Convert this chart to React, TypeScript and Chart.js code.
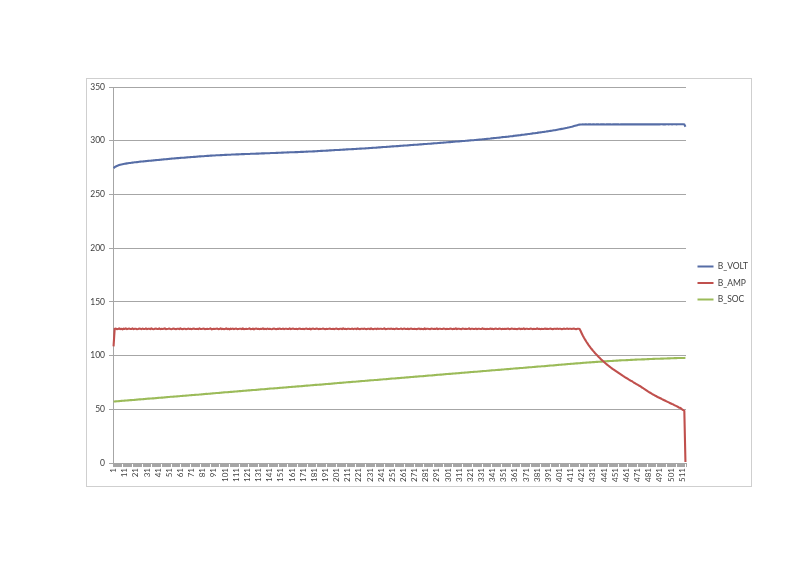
import React, { useEffect, useRef } from "react";
import { Chart, registerables } from "chart.js";

Chart.register(...registerables);

const SERIES_NAMES = ["B_VOLT", "B_AMP", "B_SOC"];
const SERIES_COLORS = ["#566DA6", "#C0504D", "#9BBB59"];

const B_VOLT = [
  274.5,275.4,276.0,276.5,276.9,277.3,277.6,277.9,278.1,278.3,
  278.5,278.7,278.9,279.0,279.2,279.3,279.5,279.6,279.7,279.9,
  280.0,280.1,280.2,280.4,280.5,280.6,280.7,280.8,280.9,281.0,
  281.1,281.2,281.3,281.4,281.5,281.6,281.7,281.8,281.9,282.0,
  282.1,282.2,282.3,282.4,282.5,282.6,282.7,282.8,282.9,283.0,
  283.1,283.2,283.3,283.4,283.5,283.6,283.7,283.8,283.8,283.9,
  284.0,284.1,284.2,284.2,284.3,284.4,284.5,284.6,284.6,284.7,
  284.8,284.9,285.0,285.0,285.1,285.2,285.3,285.4,285.4,285.5,
  285.6,285.6,285.7,285.8,285.9,285.9,286.0,286.1,286.1,286.2,
  286.2,286.3,286.4,286.4,286.5,286.5,286.6,286.6,286.7,286.7,
  286.8,286.8,286.9,286.9,287.0,287.0,287.1,287.1,287.2,287.2,
  287.3,287.3,287.3,287.4,287.4,287.5,287.5,287.5,287.6,287.6,
  287.7,287.7,287.7,287.8,287.8,287.9,287.9,287.9,288.0,288.0,
  288.0,288.1,288.1,288.2,288.2,288.2,288.3,288.3,288.4,288.4,
  288.4,288.5,288.5,288.6,288.6,288.6,288.7,288.7,288.8,288.8,
  288.8,288.9,288.9,289.0,289.0,289.0,289.1,289.1,289.2,289.2,
  289.2,289.3,289.3,289.4,289.4,289.4,289.5,289.5,289.6,289.6,
  289.6,289.7,289.7,289.8,289.8,289.9,289.9,290.0,290.0,290.1,
  290.1,290.2,290.2,290.3,290.4,290.4,290.5,290.5,290.6,290.7,
  290.7,290.8,290.8,290.9,291.0,291.0,291.1,291.1,291.2,291.3,
  291.3,291.4,291.4,291.5,291.6,291.6,291.7,291.7,291.8,291.9,
  291.9,292.0,292.0,292.1,292.2,292.2,292.3,292.3,292.4,292.5,
  292.5,292.6,292.6,292.7,292.8,292.8,292.9,293.0,293.0,293.1,
  293.2,293.2,293.3,293.4,293.5,293.5,293.6,293.7,293.8,293.8,
  293.9,294.0,294.1,294.1,294.2,294.3,294.4,294.4,294.5,294.6,
  294.7,294.7,294.8,294.9,295.0,295.0,295.1,295.2,295.3,295.3,
  295.4,295.5,295.6,295.6,295.7,295.8,295.9,296.0,296.0,296.1,
  296.2,296.3,296.3,296.4,296.5,296.6,296.6,296.7,296.8,296.9,
  296.9,297.0,297.1,297.2,297.2,297.3,297.4,297.5,297.6,297.6,
  297.7,297.8,297.9,298.0,298.1,298.1,298.2,298.3,298.4,298.5,
  298.6,298.7,298.7,298.8,298.9,299.0,299.1,299.2,299.2,299.3,
  299.4,299.5,299.6,299.7,299.8,299.8,299.9,300.0,300.1,300.2,
  300.3,300.4,300.4,300.5,300.6,300.7,300.8,300.9,301.0,301.1,
  301.2,301.3,301.4,301.5,301.6,301.7,301.8,301.9,302.0,302.2,
  302.3,302.4,302.5,302.6,302.7,302.8,302.9,303.0,303.2,303.3,
  303.4,303.5,303.6,303.7,303.8,304.0,304.1,304.2,304.3,304.5,
  304.6,304.7,304.8,305.0,305.1,305.2,305.4,305.5,305.6,305.8,
  305.9,306.0,306.2,306.3,306.5,306.6,306.8,306.9,307.0,307.2,
  307.3,307.5,307.6,307.8,307.9,308.1,308.2,308.4,308.5,308.7,
  308.8,309.0,309.2,309.3,309.5,309.7,309.8,310.0,310.2,310.4,
  310.6,310.8,311.0,311.2,311.4,311.6,311.8,312.0,312.3,312.5,
  312.8,313.0,313.3,313.6,313.9,314.2,314.5,314.8,315.0,315.1,
  315.1,315.2,315.1,315.2,315.2,315.1,315.2,315.2,315.2,315.1,
  315.2,315.2,315.1,315.2,315.2,315.2,315.1,315.2,315.2,315.2,
  315.2,315.1,315.2,315.2,315.2,315.2,315.2,315.1,315.2,315.2,
  315.2,315.2,315.2,315.2,315.1,315.2,315.2,315.2,315.2,315.3,
  315.2,315.2,315.2,315.3,315.2,315.2,315.2,315.2,315.3,315.2,
  315.2,315.3,315.2,315.2,315.2,315.3,315.2,315.2,315.3,315.2,
  315.3,315.2,315.2,315.3,315.2,315.3,315.2,315.3,315.2,315.3,
  315.2,315.3,315.3,315.2,315.3,315.2,315.3,315.3,315.2,315.3,
  315.3,315.2,315.3,315.3,315.3,315.2,315.3,315.3,315.3,315.3,
  315.3,315.3,315.2,313.0,
];

const B_AMP = [
  108.5,124.9,125.1,124.6,124.8,125.2,124.7,124.9,124.5,125.0,
  124.8,125.3,124.6,124.9,125.1,124.7,124.8,125.2,124.6,124.9,
  125.0,124.5,124.8,125.2,124.9,124.6,125.1,124.8,124.7,125.3,
  124.6,124.9,125.0,124.7,125.2,124.8,124.5,124.9,125.1,124.7,
  124.8,125.2,124.6,124.9,124.7,125.0,125.3,124.6,124.8,124.9,
  125.1,124.7,124.5,124.9,125.2,124.8,124.6,125.0,124.9,124.7,
  125.2,124.8,124.6,125.0,124.9,124.5,124.8,125.1,124.7,124.9,
  124.6,125.0,125.2,124.7,124.8,124.9,124.6,125.3,124.8,124.7,
  124.9,125.1,124.6,124.8,125.0,124.7,124.9,125.2,124.5,124.8,
  125.0,124.7,124.9,125.1,124.6,124.8,125.2,124.7,124.9,124.6,
  124.8,125.2,124.7,124.9,124.5,125.0,124.8,125.1,124.6,124.9,
  125.1,124.6,124.8,125.0,124.9,124.7,125.2,124.6,124.8,125.0,
  124.7,124.9,125.2,124.6,124.8,125.0,124.5,124.9,125.1,124.7,
  124.9,124.6,125.0,124.8,125.2,124.7,124.9,124.6,125.1,124.8,
  125.0,124.7,124.5,124.9,125.1,124.8,124.6,125.0,124.9,125.2,
  124.7,124.8,125.1,124.6,124.9,125.0,124.7,124.8,125.2,124.6,
  124.9,125.1,124.7,124.8,125.0,124.6,124.9,125.2,124.7,124.8,
  125.0,124.6,124.9,125.1,124.7,124.8,125.0,124.5,124.9,125.1,
  124.8,124.7,125.2,124.9,124.6,125.0,124.8,124.9,125.1,124.7,
  124.6,125.0,124.8,124.9,125.2,124.7,124.8,125.0,124.6,124.9,
  125.1,124.8,124.6,125.0,124.9,124.7,125.2,124.8,124.9,124.6,
  124.9,125.0,124.7,124.8,125.1,124.6,124.9,125.0,124.7,125.2,
  124.8,124.6,125.0,124.9,124.7,125.1,124.8,124.6,125.0,124.9,
  124.7,125.2,124.8,124.6,124.9,125.0,124.7,125.1,124.8,124.9,
  125.0,124.7,124.9,125.2,124.6,124.8,125.0,124.9,124.7,125.1,
  124.8,124.9,124.6,125.0,125.2,124.7,124.8,124.9,125.1,124.6,
  124.9,125.1,124.8,124.7,125.0,124.6,124.9,125.2,124.8,124.7,
  125.0,124.8,124.6,124.9,125.1,124.7,125.0,124.8,124.6,125.2,
  124.7,124.9,125.0,124.8,124.6,125.1,124.9,124.7,125.0,124.8,
  125.2,124.6,124.9,125.0,124.7,124.8,125.1,124.9,124.6,125.0,
  124.8,124.7,125.1,124.9,124.6,125.0,124.8,125.2,124.7,124.9,
  125.0,124.8,124.6,125.1,124.9,124.7,125.0,124.8,124.9,125.2,
  124.6,124.9,125.0,124.7,124.8,125.1,124.6,124.9,125.0,124.8,
  124.7,125.2,124.8,124.9,124.6,125.0,124.8,124.7,125.1,124.9,
  125.0,124.6,124.9,125.1,124.8,124.7,125.2,124.9,124.6,125.0,
  124.8,124.9,124.7,125.0,125.2,124.6,124.8,125.1,124.9,124.7,
  125.0,124.8,124.6,124.9,125.1,124.7,125.0,124.8,125.2,124.6,
  124.9,125.0,124.7,124.8,125.1,124.9,124.6,125.0,124.8,124.7,
  125.2,124.8,124.9,124.6,125.0,124.8,124.7,125.1,124.9,125.0,
  124.7,124.9,125.2,124.8,124.6,125.0,124.9,124.7,125.1,124.8,
  124.9,125.0,124.6,124.8,125.1,124.7,124.9,125.2,124.8,124.9,
  125.0,124.7,124.9,125.1,124.8,124.6,125.0,124.9,124.8,122.8,
  120.6,118.5,116.6,114.8,113.1,111.5,110.0,108.6,107.2,105.9,
  104.6,103.4,102.2,101.1,100.0,98.9,97.9,96.9,95.9,94.9,
  94.0,93.1,92.2,91.3,90.5,89.7,88.9,88.1,87.3,86.6,
  85.9,85.2,84.5,83.8,83.1,82.4,81.7,81.0,80.4,79.7,
  79.1,78.5,77.8,77.2,76.6,76.2,75.4,74.7,74.1,73.5,
  72.9,72.3,71.7,71.0,70.3,69.8,68.9,68.3,67.6,66.9,
  66.3,65.6,65.0,64.3,63.7,63.2,62.6,62.1,61.4,61.0,
  60.5,60.0,59.4,58.9,58.4,57.9,57.4,56.9,56.4,55.9,
  55.4,54.9,54.6,53.9,53.4,52.9,52.4,51.7,51.4,50.8,
  50.0,49.3,48.4,1.0,
];

const B_SOC = [
  57.2,57.3,57.4,57.5,57.5,57.6,57.7,57.8,57.9,58.0,
  58.1,58.2,58.2,58.3,58.4,58.5,58.5,58.6,58.7,58.8,
  58.9,59.0,59.1,59.2,59.2,59.3,59.4,59.5,59.6,59.7,
  59.8,59.9,59.9,60.0,60.1,60.2,60.2,60.3,60.4,60.5,
  60.6,60.7,60.8,60.9,60.9,61.0,61.1,61.2,61.3,61.4,
  61.5,61.6,61.6,61.7,61.8,61.9,61.9,62.0,62.1,62.2,
  62.3,62.4,62.5,62.6,62.6,62.7,62.8,62.9,63.0,63.1,
  63.2,63.3,63.3,63.4,63.5,63.6,63.6,63.7,63.8,63.9,
  64.0,64.1,64.2,64.3,64.3,64.4,64.5,64.6,64.7,64.8,
  64.9,65.0,65.1,65.2,65.2,65.3,65.4,65.5,65.6,65.7,
  65.8,65.9,65.9,66.0,66.1,66.2,66.2,66.3,66.4,66.5,
  66.6,66.7,66.8,66.9,66.9,67.0,67.1,67.2,67.3,67.4,
  67.5,67.6,67.6,67.7,67.8,67.9,67.9,68.0,68.1,68.2,
  68.3,68.4,68.5,68.6,68.6,68.7,68.8,68.9,69.0,69.1,
  69.2,69.3,69.3,69.4,69.5,69.6,69.6,69.7,69.8,69.9,
  70.0,70.1,70.2,70.3,70.3,70.4,70.5,70.6,70.7,70.8,
  70.9,71.0,71.0,71.1,71.2,71.3,71.3,71.4,71.5,71.6,
  71.7,71.8,71.9,72.0,72.0,72.1,72.2,72.3,72.4,72.5,
  72.6,72.7,72.7,72.8,72.9,73.0,73.0,73.1,73.2,73.3,
  73.4,73.5,73.6,73.7,73.7,73.8,73.9,74.0,74.1,74.2,
  74.3,74.4,74.5,74.6,74.6,74.7,74.8,74.9,75.0,75.1,
  75.2,75.3,75.3,75.4,75.5,75.6,75.6,75.7,75.8,75.9,
  76.0,76.1,76.2,76.3,76.3,76.4,76.5,76.6,76.7,76.8,
  76.9,77.0,77.0,77.1,77.2,77.3,77.3,77.4,77.5,77.6,
  77.7,77.8,77.9,78.0,78.0,78.1,78.2,78.3,78.4,78.5,
  78.6,78.7,78.7,78.8,78.9,79.0,79.0,79.1,79.2,79.3,
  79.4,79.5,79.6,79.7,79.7,79.8,79.9,80.0,80.1,80.2,
  80.3,80.4,80.4,80.5,80.6,80.7,80.7,80.8,80.9,81.0,
  81.1,81.2,81.3,81.4,81.4,81.5,81.6,81.7,81.8,81.9,
  82.0,82.1,82.2,82.3,82.3,82.4,82.5,82.6,82.7,82.8,
  82.9,83.0,83.0,83.1,83.2,83.3,83.3,83.4,83.5,83.6,
  83.7,83.8,83.9,84.0,84.0,84.1,84.2,84.3,84.4,84.5,
  84.6,84.7,84.7,84.8,84.9,85.0,85.0,85.1,85.2,85.3,
  85.4,85.5,85.6,85.7,85.7,85.8,85.9,86.0,86.1,86.2,
  86.3,86.4,86.4,86.5,86.6,86.7,86.7,86.8,86.9,87.0,
  87.1,87.2,87.3,87.4,87.4,87.5,87.6,87.7,87.8,87.9,
  88.0,88.1,88.1,88.2,88.3,88.4,88.4,88.5,88.6,88.7,
  88.8,88.9,89.0,89.1,89.1,89.2,89.3,89.4,89.5,89.6,
  89.7,89.8,89.8,89.9,90.0,90.1,90.1,90.2,90.3,90.4,
  90.5,90.6,90.7,90.8,90.8,90.9,91.0,91.1,91.2,91.3,
  91.4,91.5,91.6,91.7,91.7,91.8,91.9,92.0,92.1,92.2,
  92.3,92.4,92.4,92.5,92.6,92.7,92.7,92.8,92.9,93.0,
  93.1,93.2,93.3,93.3,93.4,93.5,93.6,93.7,93.7,93.8,
  93.9,93.9,94.0,94.1,94.1,94.2,94.3,94.4,94.4,94.5,
  94.6,94.6,94.7,94.8,94.8,94.9,95.0,95.0,95.1,95.2,
  95.2,95.3,95.3,95.4,95.5,95.5,95.6,95.6,95.7,95.7,
  95.8,95.8,95.9,95.9,96.0,96.0,96.1,96.1,96.2,96.2,
  96.3,96.3,96.4,96.4,96.5,96.5,96.5,96.6,96.6,96.7,
  96.7,96.8,96.8,96.8,96.9,96.9,97.0,97.0,97.0,97.1,
  97.1,97.2,97.2,97.2,97.3,97.3,97.3,97.4,97.4,97.4,
  97.5,97.5,97.5,97.6,97.6,97.6,97.7,97.7,97.7,97.8,
  97.8,97.8,97.8,97.9,
];

// category labels 1..N (one per sample); a tick label is shown every 10th
const CATEGORIES = B_VOLT.map((_, i) => String(i + 1));
const LABEL_EVERY = 10;
const Y_TICKS = [0, 50, 100, 150, 200, 250, 300, 350];

const FONT = "Lato, 'Open Sans', 'DejaVu Sans', sans-serif";
const TEXT = "#404040";
const GRID = "#a6a6a6";

const framePlugin = {
  id: "frame",
  beforeDraw(chart: any) {
    const ctx = chart.ctx;
    ctx.save();
    ctx.fillStyle = "#ffffff";
    ctx.fillRect(0, 0, chart.width, chart.height);
    ctx.strokeStyle = "#cfcfcf";
    ctx.lineWidth = 1;
    ctx.strokeRect(86.5, 78.5, 665, 408);
    ctx.restore();
  },
};

const legendPlugin = {
  id: "legendPlace",
  afterInit(chart: any) {
    const lg = chart.legend;
    if (!lg) return;
    const orig = lg.fit.bind(lg);
    lg.fit = function () {
      orig();
      this.width = 114;
    };
  },
  afterLayout(chart: any) {
    const lg = chart.legend;
    if (!lg) return;
    lg.left += 3.5;
    lg.right += 3.5;
    lg.top -= 7;
    lg.bottom -= 7;
  },
};

export default function App() {
  const ref = useRef<HTMLCanvasElement | null>(null);

  useEffect(() => {
    if (!ref.current) return;
    const series = [B_VOLT, B_AMP, B_SOC];
    const chart = new Chart(ref.current, {
      type: "line",
      data: {
        labels: CATEGORIES,
        datasets: series.map((d, k) => ({
          label: SERIES_NAMES[k],
          data: d,
          borderColor: SERIES_COLORS[k],
          backgroundColor: SERIES_COLORS[k],
          borderWidth: 2.1,
          pointRadius: 0,
          pointHoverRadius: 0,
          tension: 0,
          fill: false,
        })),
      },
      options: {
        responsive: false,
        animation: false,
        devicePixelRatio: 1,
        events: [],
        layout: { padding: { left: 80, top: 87, right: 0, bottom: 72 } },
        plugins: {
          tooltip: { enabled: false },
          legend: {
            position: "right",
            labels: {
              usePointStyle: true,
              pointStyle: "line",
              pointStyleWidth: 16,
              padding: 8,
              color: TEXT,
              font: { family: FONT, size: 8.5 },
            },
          },
        },
        scales: {
          x: {
            type: "category",
            offset: true,
            grid: {
              display: true,
              drawOnChartArea: false,
              drawTicks: true,
              tickLength: 4,
              color: GRID,
              offset: true,
            },
            border: { display: true, color: GRID },
            ticks: {
              autoSkip: false,
              maxRotation: 90,
              minRotation: 90,
              padding: 1,
              color: TEXT,
              font: { family: FONT, size: 8 },
              callback: (_v: any, i: number) => (i % LABEL_EVERY === 0 ? CATEGORIES[i] : ""),
            },
            afterFit: (s: any) => {
              s.height = 30;
            },
          },
          y: {
            min: 0,
            max: 350,
            afterBuildTicks: (s: any) => {
              s.ticks = Y_TICKS.map((v) => ({ value: v }));
            },
            grid: { color: GRID, tickLength: 4, drawTicks: true },
            border: { display: true, color: GRID },
            ticks: {
              padding: 4,
              color: TEXT,
              font: { family: FONT, size: 8.5 },
            },
            afterFit: (s: any) => {
              s.width = 33;
            },
          },
        },
      },
      plugins: [framePlugin, legendPlugin],
    } as any);
    return () => chart.destroy();
  }, []);

  return (
    <div style={{ position: "absolute", left: 0, top: 0, width: 800, height: 565, background: "#fff" }}>
      <canvas ref={ref} width={800} height={565} style={{ display: "block" }} />
    </div>
  );
}
